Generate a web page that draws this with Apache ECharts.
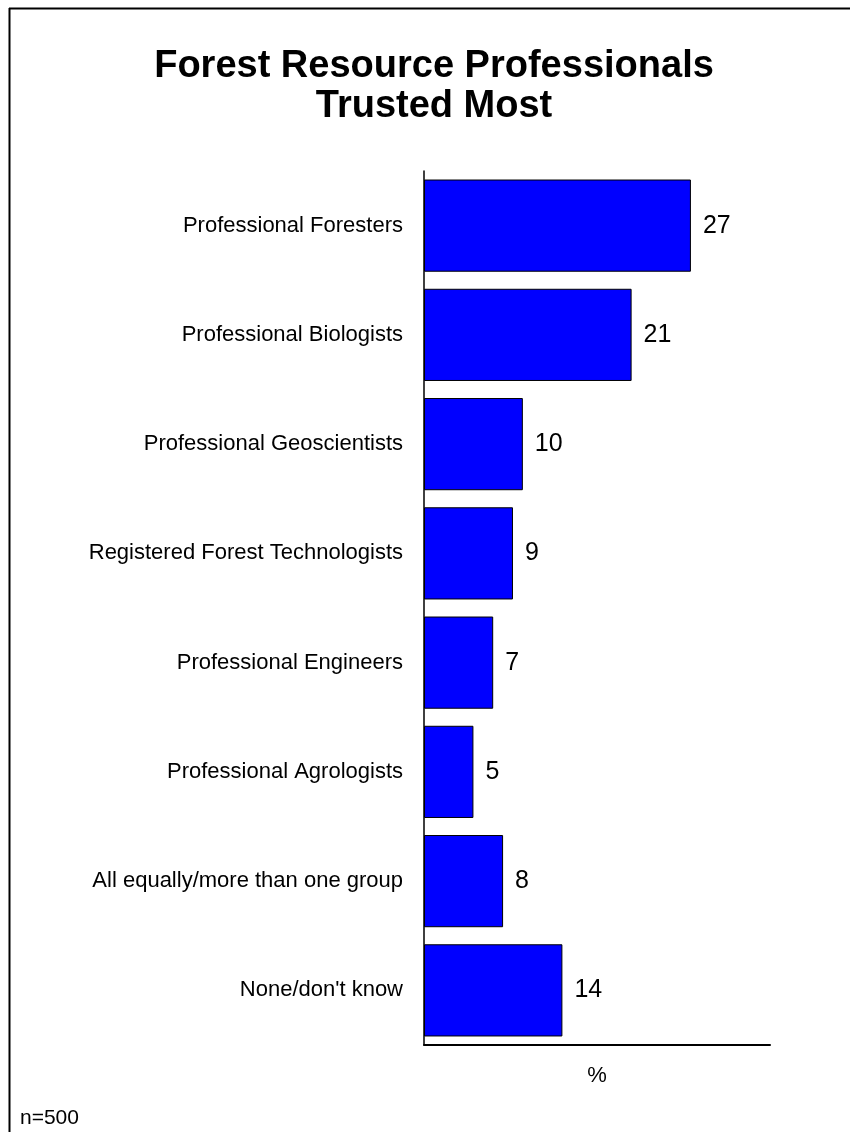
<!DOCTYPE html>
<html><head><meta charset="utf-8">
<script src="https://cdn.jsdelivr.net/npm/echarts@6/dist/echarts.min.js"></script>
<style>html,body{margin:0;padding:0;background:#fff}#c{width:850px;height:1132px}</style>
</head><body><div id="c"></div>
<script>
var categories = ["Professional Foresters","Professional Biologists","Professional Geoscientists","Registered Forest Technologists","Professional Engineers","Professional Agrologists","All equally/more than one group","None/don't know"];
var values = [27,21,10,9,7,5,8,14];
var titleText = "Forest Resource Professionals\nTrusted Most";
var axisName = "%";
var noteText = "n=500";

var chart = echarts.init(document.getElementById('c'), null, {renderer:'canvas'});
var F = '"Liberation Sans", Arial, sans-serif';
chart.setOption({
  animation:false,
  backgroundColor:'#fff',
  title:{text:titleText,left:429,textAlign:'center',top:42,
    textStyle:{fontFamily:F,fontSize:38,fontWeight:'bold',color:'#000',lineHeight:40}},
  grid:{left:424,right:80,top:171,bottom:87,containLabel:false},
  xAxis:{type:'value',min:0,max:35,name:axisName,nameLocation:'middle',nameGap:20,
    nameTextStyle:{fontFamily:F,fontSize:22,color:'#000'},
    axisLine:{show:true,lineStyle:{color:'#000',width:2}},axisTick:{show:false},
    axisLabel:{show:false},splitLine:{show:false}},
  yAxis:{type:'category',data:categories,inverse:true,
    axisLine:{show:true,lineStyle:{color:'#000',width:1.5}},axisTick:{show:false},
    axisLabel:{margin:21,fontFamily:F,fontSize:22,color:'#000'}},
  series:[{type:'bar',data:values,barCategoryGap:'15.6%',
    itemStyle:{color:'#0000FF',borderColor:'#000',borderWidth:1},
    label:{show:true,position:'right',distance:12,fontFamily:F,fontSize:25,color:'#000'}}],
  graphic:[
    {type:'line',shape:{x1:9.5,y1:8,x2:9.5,y2:1132},style:{stroke:'#000',lineWidth:2}},
    {type:'line',shape:{x1:9,y1:8.5,x2:850,y2:8.5},style:{stroke:'#000',lineWidth:2}},
    {type:'text',left:20,top:1108,style:{text:noteText,fontFamily:F,fontSize:21,fill:'#000'}}
  ]
});
</script></body></html>
